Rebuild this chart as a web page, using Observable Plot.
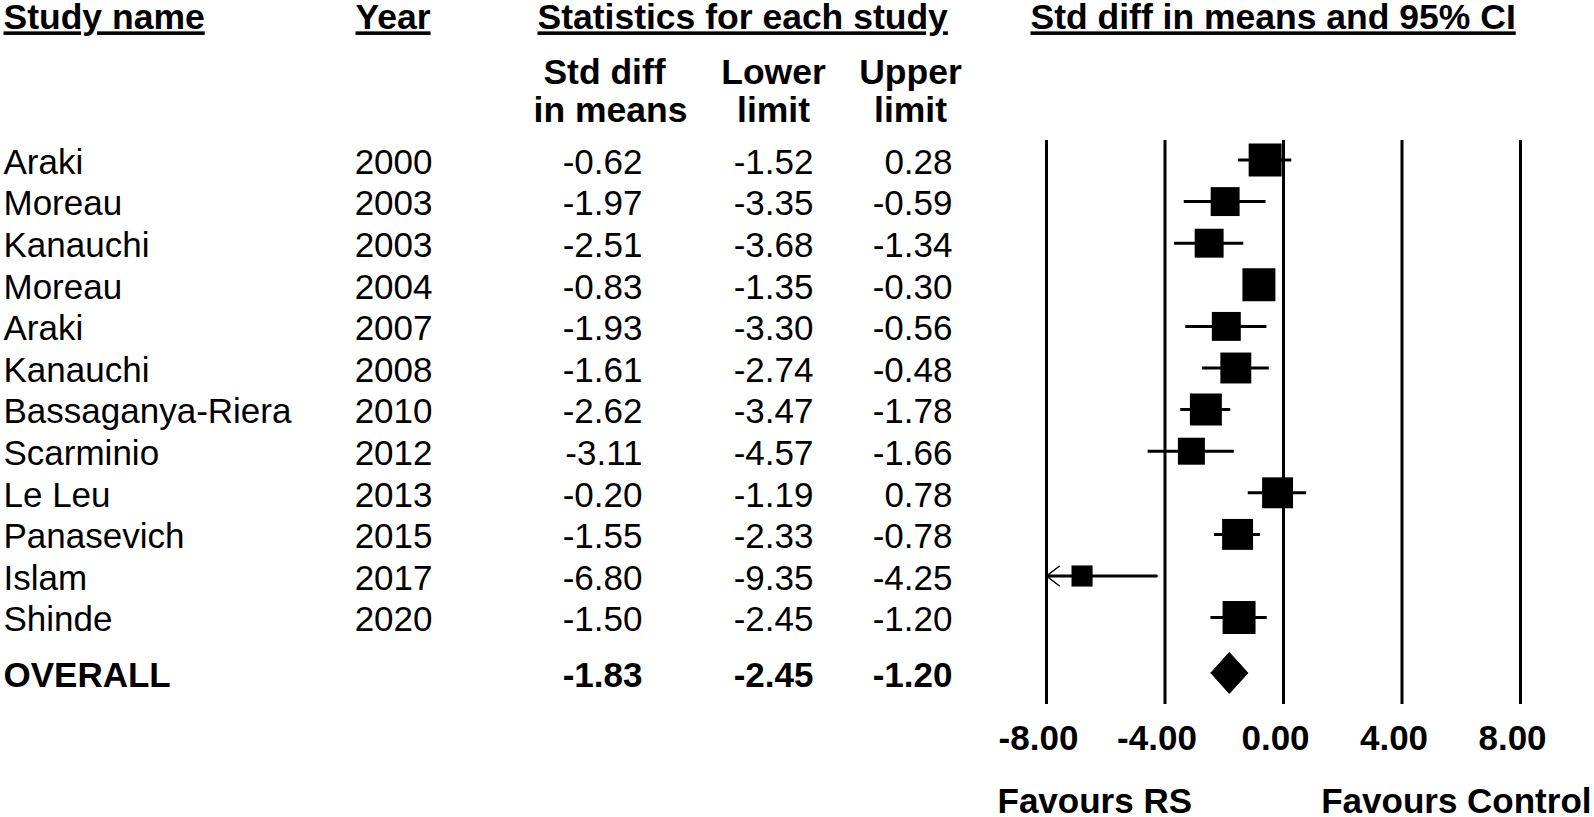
<!DOCTYPE html>
<html>
<head>
<meta charset="utf-8">
<script src="https://cdn.jsdelivr.net/npm/d3@7"></script>
<script src="https://cdn.jsdelivr.net/npm/@observablehq/plot@0.6"></script>
<style>
  html, body { margin: 0; padding: 0; background: #fff; }
  text.hdr-underline {
    text-decoration: underline;
    text-decoration-thickness: 3px;
    text-underline-offset: 3px;
  }
</style>
</head>
<body>
<div id="chart"></div>
<script>
// ---- Data ----
const studies = ["Araki","Moreau","Kanauchi","Moreau","Araki","Kanauchi","Bassaganya-Riera","Scarminio","Le Leu","Panasevich","Islam","Shinde"];
const years = [2000,2003,2003,2004,2007,2008,2010,2012,2013,2015,2017,2020];
const smd = [-0.62,-1.97,-2.51,-0.83,-1.93,-1.61,-2.62,-3.11,-0.20,-1.55,-6.80,-1.50];
const lowerLimit = [-1.52,-3.35,-3.68,-1.35,-3.30,-2.74,-3.47,-4.57,-1.19,-2.33,-9.35,-2.45];
const upperLimit = [0.28,-0.59,-1.34,-0.30,-0.56,-0.48,-1.78,-1.66,0.78,-0.78,-4.25,-1.20];
// CI upper end as drawn in the plot (the Shinde whisker extends past the tabulated value)
const upperPlotted = [0.28,-0.59,-1.34,-0.30,-0.56,-0.48,-1.78,-1.66,0.78,-0.78,-4.25,-0.55];
// relative study weights (%), estimated from the square areas
const weights = [10.0,7.7,7.7,10.0,7.7,8.8,9.4,6.7,8.8,8.8,4.1,10.0];
const overallLabel = "OVERALL";
const overallSmd = -1.83, overallLower = -2.45, overallUpper = -1.20;
const xTicks = [-8,-4,0,4,8];
const xDomain = [-8, 8];
const headers = ["Study name", "Year", "Statistics for each study", "Std diff in means and 95% CI"];
const subHeaders = [["Std diff", "in means"], ["Lower", "limit"], ["Upper", "limit"]];
const favours = ["Favours RS", "Favours Control"];

// ---- Layout ----
const W = 1594, H = 817;
const rowTop = 159.5, rowStep = 41.6;
const overallRow = 12.33;
const font = "Liberation Sans, Arial, Helvetica, sans-serif";
const fmt = v => v.toFixed(2);

const rows = studies.map((s, i) => ({
  i, name: s, year: String(years[i]), smd: smd[i],
  lower: lowerLimit[i], upper: upperLimit[i], upperP: upperPlotted[i], w: weights[i]
}));
const overall = {i: overallRow, name: overallLabel, smd: overallSmd, lower: overallLower, upper: overallUpper};
const dh = 20.5 / rowStep;
const diamond = [
  {x: overall.lower, y: overall.i},
  {x: overall.smd, y: overall.i - dh},
  {x: overall.upper, y: overall.i},
  {x: overall.smd, y: overall.i + dh},
  {x: overall.lower, y: overall.i}
];

const marginTop = 140, marginBottom = 113;
const regular = 35, bold = 35.5;
const topDy = y => y - marginTop; // offset from frame top

const hdr = (text, x, y, anchor) => Plot.text([text], {
  frameAnchor: "top-left", dx: x, dy: topDy(y), text: d => d,
  textAnchor: anchor, lineAnchor: "middle", fontSize: bold, fontWeight: "bold",
  fill: "black"
});

const col = (data, x, text, anchor, weight) => Plot.text(data, {
  y: "i", frameAnchor: "left", dx: x, dy: 2.5, text, textAnchor: anchor,
  fontSize: regular, fontWeight: weight, fill: "black"
});

const clampLo = d => Math.max(d.lower, xDomain[0]);
const colX = [3, 432, 642, 813, 952];

const chart = Plot.plot({
  width: W, height: H,
  marginTop, marginBottom, marginLeft: 0, marginRight: 0,
  style: {fontFamily: font, background: "white", color: "black"},
  x: {domain: xDomain, range: [1046, 1520], axis: null},
  y: {domain: [0, 11], range: [rowTop, rowTop + 11 * rowStep], axis: null},
  r: {type: "sqrt", domain: [0, 10], range: [0, 18.6]},
  marks: [
    // headers (underlined below)
    hdr(headers[0], 3, 17.5, "start"),
    hdr(headers[1], 355, 17.5, "start"),
    hdr(headers[2], 537, 17.5, "start"),
    hdr(headers[3], 1030, 17.5, "start"),
    // sub headers
    hdr(subHeaders[0][0], 604, 72.5, "middle"),
    hdr(subHeaders[0][1], 610, 110, "middle"),
    hdr(subHeaders[1][0], 773, 72.5, "middle"),
    hdr(subHeaders[1][1], 773, 110, "middle"),
    hdr(subHeaders[2][0], 910, 72.5, "middle"),
    hdr(subHeaders[2][1], 910, 110, "middle"),
    // vertical reference lines
    Plot.ruleX(xTicks, {stroke: "black", strokeWidth: 3}),
    // table columns
    col(rows, colX[0], "name", "start", "normal"),
    col(rows, colX[1], "year", "end", "normal"),
    col(rows, colX[2], d => fmt(d.smd), "end", "normal"),
    col(rows, colX[3], d => fmt(d.lower), "end", "normal"),
    col(rows, colX[4], d => fmt(d.upper), "end", "normal"),
    // overall row
    col([overall], colX[0], "name", "start", "bold"),
    col([overall], colX[2], d => fmt(d.smd), "end", "bold"),
    col([overall], colX[3], d => fmt(d.lower), "end", "bold"),
    col([overall], colX[4], d => fmt(d.upper), "end", "bold"),
    // confidence intervals
    Plot.ruleY(rows, {y: "i", x1: clampLo, x2: "upperP", stroke: "black", strokeWidth: 3}),
    // arrow for truncated CI
    Plot.arrow(rows.filter(d => d.lower < xDomain[0]), {
      x1: "upperP", x2: clampLo, y1: "i", y2: "i",
      stroke: "black", strokeWidth: 1.5, headLength: 16, headAngle: 75
    }),
    // study squares
    Plot.dot(rows, {x: "smd", y: "i", r: "w", symbol: "square", fill: "black", stroke: null}),
    // overall diamond
    Plot.line(diamond, {x: "x", y: "y", fill: "black", stroke: "black", strokeWidth: 1}),
    // x axis
    Plot.axisX(xTicks, {tickSize: 0, tickPadding: 21, dx: -8, tickFormat: fmt, fontSize: 35, fontWeight: "bold", stroke: null, fill: "black"}),
    // favours labels
    Plot.text([favours[0]], {frameAnchor: "bottom-left", dx: 997, dy: 801 - (H - marginBottom), text: d => d, textAnchor: "start", lineAnchor: "middle", fontSize: 35, fontWeight: "bold", fill: "black"}),
    Plot.text([favours[1]], {frameAnchor: "bottom-left", dx: 1591, dy: 801 - (H - marginBottom), text: d => d, textAnchor: "end", lineAnchor: "middle", fontSize: 35, fontWeight: "bold", fill: "black"})
  ]
});
// underline the top header texts
chart.querySelectorAll("text").forEach(t => {
  if (headers.includes(t.textContent)) {
    t.classList.add("hdr-underline");
    t.setAttribute("text-decoration", "underline");
  }
});
document.getElementById("chart").appendChild(chart);
</script>
</body>
</html>
